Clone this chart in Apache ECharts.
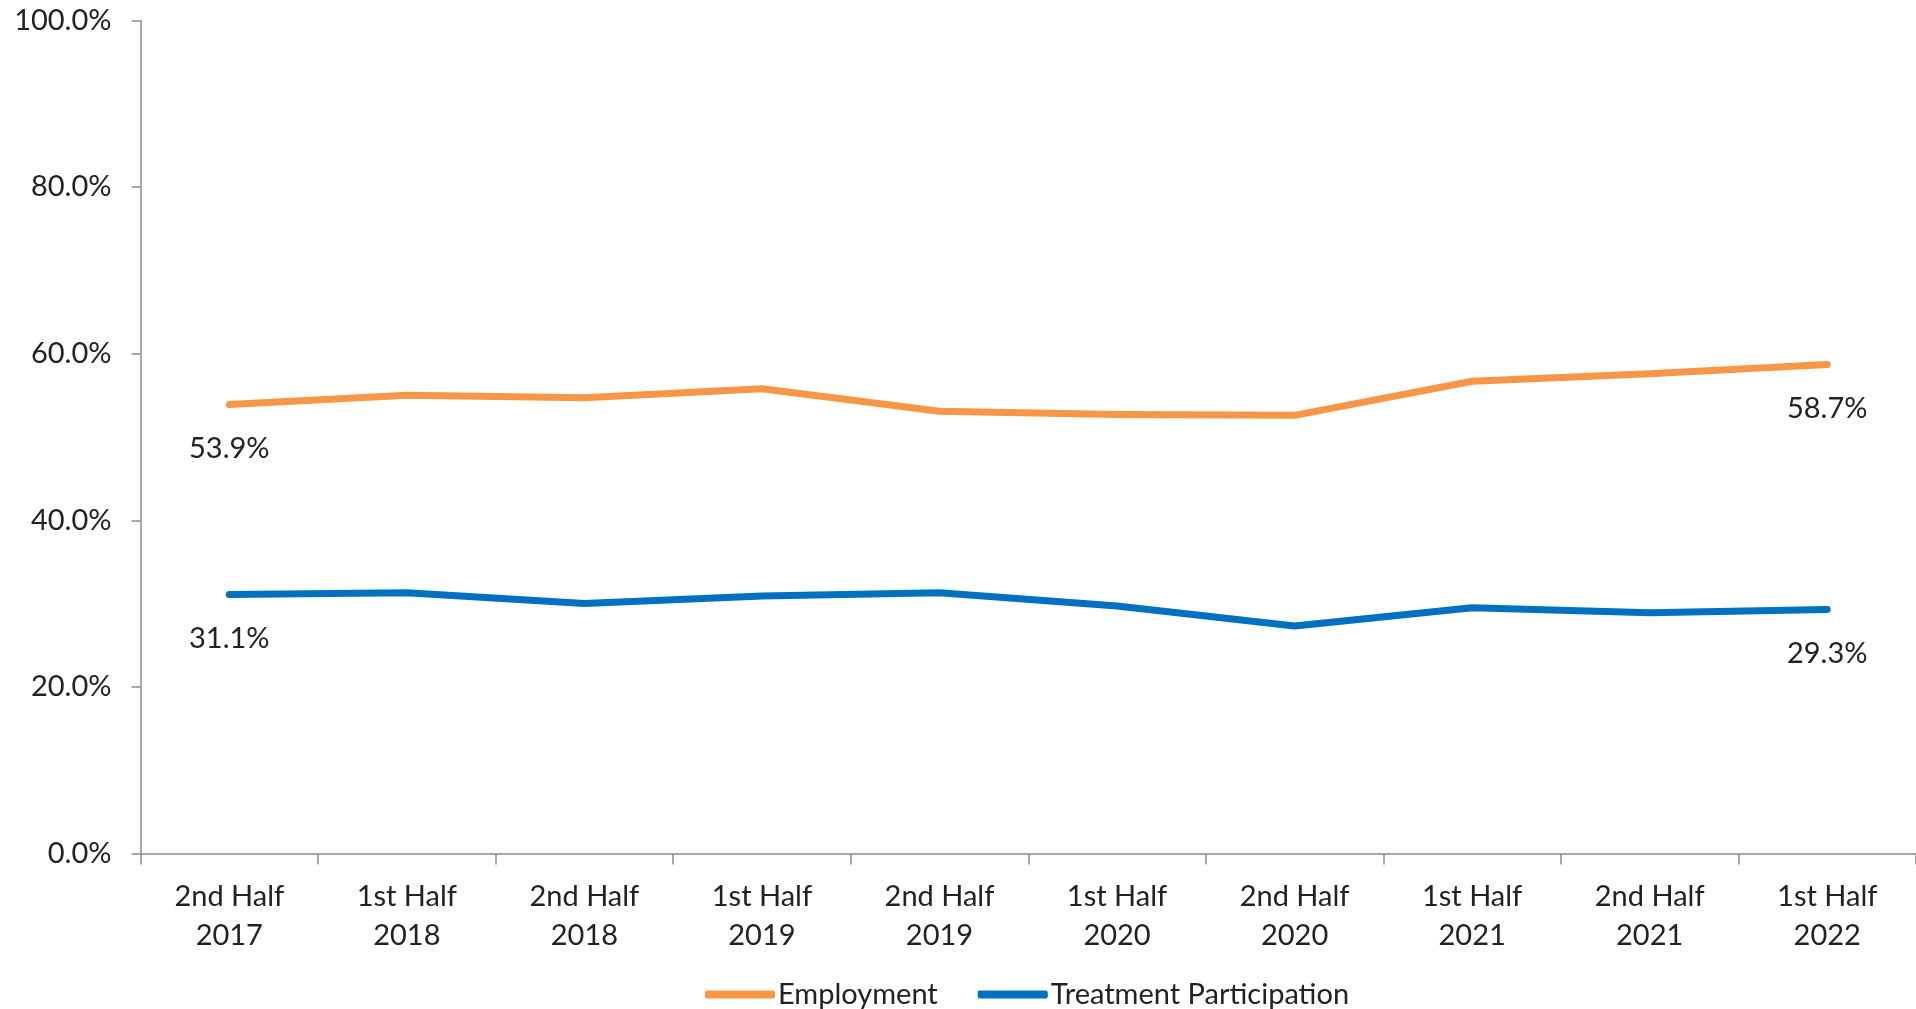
<!DOCTYPE html>
<html>
<head>
<meta charset="utf-8">
<script src="https://cdn.jsdelivr.net/npm/echarts@6/dist/echarts.min.js"></script>
<style>
  html, body { margin: 0; padding: 0; background: #fff; }
  #chart { width: 1916px; height: 1009px; }
</style>
</head>
<body>
<div id="chart"></div>
<script>
var periods = ['2nd Half\n2017', '1st Half\n2018', '2nd Half\n2018', '1st Half\n2019', '2nd Half\n2019',
               '1st Half\n2020', '2nd Half\n2020', '1st Half\n2021', '2nd Half\n2021', '1st Half\n2022'];
var employment = [53.9, 55.0, 54.7, 55.8, 53.1, 52.7, 52.6, 56.7, 57.6, 58.7];
var treatment = [31.1, 31.3, 30.0, 30.9, 31.3, 29.7, 27.3, 29.5, 28.9, 29.3];
var yTicks = [0, 20, 40, 60, 80, 100];

var fontFam = 'Lato, "Open Sans", sans-serif';
var fs = 29;
var textColor = '#222';
var axisColor = '#8c8c8c';

// label only the first and last point, like the original
function endLabels(arr) {
    return arr.map(function (v, i) {
        var show = (i === 0 || i === arr.length - 1);
        return { value: v, label: { show: show } };
    });
}

function pct(p) { return p.value.toFixed(1) + '%'; }

var chart = echarts.init(document.getElementById('chart'));

var option = {
    animation: false,
    backgroundColor: '#fff',
    textStyle: { fontFamily: fontFam },
    grid: { left: 140.5, right: 0, top: 20.5, bottom: 155.5 },
    legend: {
        left: 700,
        top: 975,
        icon: 'roundRect',
        itemWidth: 70,
        itemHeight: 8,
        itemGap: 40,
        textStyle: { fontSize: fs, color: textColor, fontFamily: fontFam, padding: [0, 0, 0, -2] },
        data: ['Employment', 'Treatment Participation']
    },
    xAxis: {
        type: 'category',
        data: periods,
        boundaryGap: true,
        axisLine: { lineStyle: { color: axisColor, width: 1.5 } },
        axisTick: { show: true, length: 11, lineStyle: { color: axisColor, width: 1.5 } },
        axisLabel: {
            margin: 24,
            fontSize: fs,
            lineHeight: 39,
            color: textColor,
            fontFamily: fontFam,
            interval: 0
        },
        splitLine: { show: false }
    },
    yAxis: {
        type: 'value',
        min: yTicks[0],
        max: yTicks[yTicks.length - 1],
        interval: 20,
        axisLine: { show: true, lineStyle: { color: axisColor, width: 1.5 } },
        axisTick: { show: true, length: 9, lineStyle: { color: axisColor, width: 1.5 } },
        axisLabel: {
            margin: 29,
            fontSize: fs,
            color: textColor,
            fontFamily: fontFam,
            formatter: function (v) { return v.toFixed(1) + '%'; }
        },
        splitLine: { show: false }
    },
    series: [
        {
            name: 'Employment',
            type: 'line',
            data: endLabels(employment),
            symbol: 'circle',
            symbolSize: 1,
            color: '#F79646',
            lineStyle: { width: 7, color: '#F79646', cap: 'round', join: 'round' },
            label: {
                position: 'bottom',
                distance: 29,
                fontSize: fs,
                color: textColor,
                fontFamily: fontFam,
                formatter: pct
            }
        },
        {
            name: 'Treatment Participation',
            type: 'line',
            data: endLabels(treatment),
            symbol: 'circle',
            symbolSize: 1,
            color: '#0070C0',
            lineStyle: { width: 7, color: '#0070C0', cap: 'round', join: 'round' },
            label: {
                position: 'bottom',
                distance: 29,
                fontSize: fs,
                color: textColor,
                fontFamily: fontFam,
                formatter: pct
            }
        }
    ]
};

chart.setOption(option);
</script>
</body>
</html>
